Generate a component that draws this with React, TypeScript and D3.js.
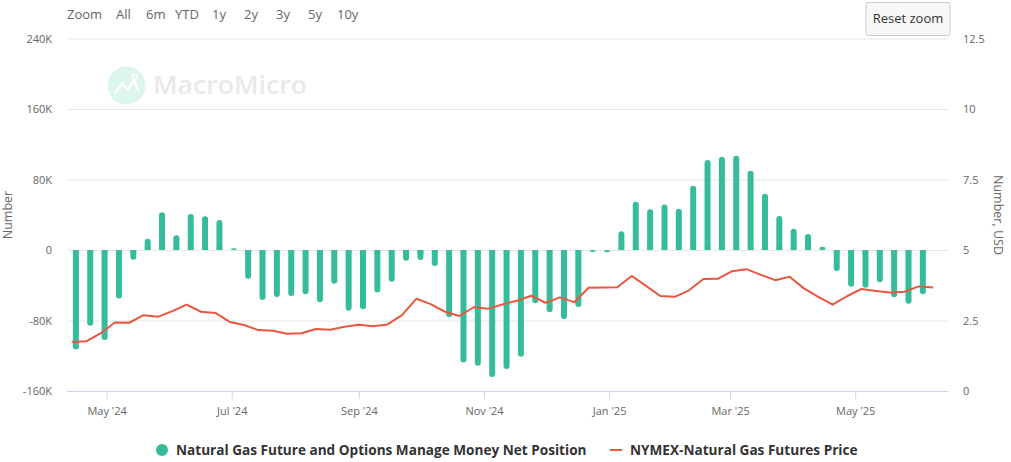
import React, { useRef, useEffect } from 'react';
import * as d3 from 'd3';

// weekly CFTC report dates (Tuesdays) and net position, contracts
const positionStart = '2024-04-16';
const positionEnd = '2025-06-03';
const netPosition = [
  -113000, -86000, -102000, -55000, -11000, 12800, 42700, 16600, 40800, 38200,
  34000, 2000, -32500, -56700, -53300, -52200, -50300, -59400, -38200, -68800,
  -67300, -48200, -35900, -12100, -11300, -18200, -76400, -127800, -131300, -144100,
  -135000, -121000, -60500, -70700, -78300, -64700, -2300, -2600, 21200, 54800,
  46100, 51600, 46900, 73000, 102100, 105900, 107000, 90000, 63900, 38600,
  24200, 18200, 3800, -23800, -41600, -42700, -36700, -53700, -60900, -50300,
];

// weekly NYMEX natural gas futures price, USD
const priceStart = '2024-04-14';
const priceEnd = '2025-06-08';
const gasPrice = [
  1.74, 1.76, 2.04, 2.43, 2.42, 2.69, 2.63, 2.83, 3.06, 2.81,
  2.77, 2.45, 2.34, 2.16, 2.14, 2.03, 2.05, 2.2, 2.17, 2.28,
  2.35, 2.3, 2.36, 2.69, 3.27, 3.08, 2.81, 2.66, 2.97, 2.92,
  3.07, 3.2, 3.38, 3.13, 3.32, 3.15, 3.66, 3.67, 3.68, 4.08,
  3.73, 3.37, 3.34, 3.57, 3.97, 3.98, 4.25, 4.32, 4.12, 3.93,
  4.05, 3.64, 3.34, 3.06, 3.36, 3.62, 3.55, 3.49, 3.52, 3.71,
  3.67,
];

const leftTicks = [-160000, -80000, 0, 80000, 160000, 240000];
const leftTickLabels = ['-160K', '-80K', '0', '80K', '160K', '240K'];
const rightTicks = [0, 2.5, 5, 7.5, 10, 12.5];
const xTickDates = ['2024-05-01', '2024-07-01', '2024-09-01', '2024-11-01', '2025-01-01', '2025-03-01', '2025-05-01'];
const xTickLabels = ["May '24", "Jul '24", "Sep '24", "Nov '24", "Jan '25", "Mar '25", "May '25"];
const rangeButtons = ['Zoom', 'All', '6m', 'YTD', '1y', '2y', '3y', '5y', '10y'];
const seriesNames = ['Natural Gas Future and Options Manage Money Net Position', 'NYMEX-Natural Gas Futures Price'];

const GREEN = '#37bc9b';
const RED = '#e9573f';
const FONT = '"Open Sans", "DejaVu Sans", sans-serif';

export default function App() {
  const svgRef = useRef<SVGSVGElement>(null);

  useEffect(() => {
    if (!svgRef.current) return;
    document.body.style.margin = '0';
    const svg = d3.select(svgRef.current);
    svg.selectAll('*').remove();

    const width = 1011;
    const height = 462;
    const left = 67, right = 948, top = 38.5, bottom = 391;

    const parse = (s: string) => new Date(s + 'T00:00:00Z');
    const posDates = d3.utcTuesday.range(parse(positionStart), d3.utcDay.offset(parse(positionEnd), 1));
    const priceDates = d3.utcSunday.range(parse(priceStart), d3.utcDay.offset(parse(priceEnd), 1));

    const x = d3.scaleUtc()
      .domain([new Date(Date.UTC(2024, 3, 11, 16)), new Date(Date.UTC(2025, 5, 15, 6))])
      .range([left, right]);
    const yL = d3.scaleLinear().domain([-160000, 240000]).range([bottom, top]);
    const yR = d3.scaleLinear().domain([0, 12.5]).range([bottom, top]);

    svg.attr('width', width).attr('height', height).style('font-family', FONT);

    // range selector
    const btnX = [67, 116, 146, 175, 212, 244, 276, 308, 337];
    svg.append('g').selectAll('text')
      .data(rangeButtons)
      .enter()
      .append('text')
      .attr('x', (_, i) => btnX[i])
      .attr('y', 19)
      .style('font-size', '13px')
      .style('fill', '#666')
      .text(d => d);

    // reset zoom button
    const btn = svg.append('g');
    btn.append('rect')
      .attr('x', 866).attr('y', 2.5).attr('width', 84).attr('height', 33)
      .attr('rx', 2).attr('fill', '#f7f7f7').attr('stroke', '#cccccc');
    btn.append('text')
      .attr('x', 908).attr('y', 22.5).attr('text-anchor', 'middle')
      .style('font-size', '13px').style('fill', '#333')
      .text('Reset zoom');

    // watermark
    const wm = svg.append('g');
    wm.append('circle').attr('cx', 126.5).attr('cy', 85.5).attr('r', 19).attr('fill', '#dcf5ef');
    wm.append('path')
      .attr('d', 'M115,93 L122,83 L128,90 L134,80 L138,90')
      .attr('fill', 'none').attr('stroke', '#ffffff').attr('stroke-width', 2.5)
      .attr('stroke-linejoin', 'round').attr('stroke-linecap', 'round');
    wm.append('circle').attr('cx', 135).attr('cy', 77).attr('r', 2.5)
      .attr('fill', 'none').attr('stroke', '#ffffff').attr('stroke-width', 1.5);
    wm.append('text')
      .attr('x', 153).attr('y', 94)
      .attr('textLength', 154).attr('lengthAdjust', 'spacingAndGlyphs')
      .style('font-size', '25px').style('font-weight', '600').style('fill', '#e9e9e9')
      .text('MacroMicro');

    // grid
    svg.append('g')
      .attr('transform', `translate(${left},0)`)
      .call(d3.axisLeft(yL).tickValues(leftTicks).tickSize(-(right - left)).tickFormat((_, i) => leftTickLabels[i]))
      .call(g => g.select('.domain').remove())
      .call(g => g.selectAll('.tick line').attr('stroke', '#e6e6e6'))
      .call(g => g.selectAll('text')
        .attr('x', -15)
        .style('font-family', FONT)
        .style('font-size', '11px')
        .style('fill', '#666'));

    svg.append('g')
      .attr('transform', `translate(${right},0)`)
      .call(d3.axisRight(yR).tickValues(rightTicks).tickSize(0).tickFormat(d => String(d)))
      .call(g => g.select('.domain').remove())
      .call(g => g.selectAll('text')
        .attr('x', 15)
        .style('font-family', FONT)
        .style('font-size', '11px')
        .style('fill', '#666'));

    // x axis
    const xTicks = xTickDates.map(parse);
    svg.append('g')
      .attr('transform', `translate(0,${bottom})`)
      .call(d3.axisBottom(x).tickValues(xTicks).tickSize(8).tickFormat((_, i) => xTickLabels[i]))
      .call(g => g.select('.domain').attr('stroke', '#ccd6eb').attr('d', `M${left},0.5H${right}`))
      .call(g => g.selectAll('.tick line').attr('stroke', '#ccd6eb'))
      .call(g => g.selectAll('text')
        .attr('y', 16)
        .style('font-family', FONT)
        .style('font-size', '11px')
        .style('fill', '#666'));

    // axis titles
    svg.append('text')
      .attr('transform', 'translate(12,215) rotate(-90)')
      .attr('text-anchor', 'middle')
      .style('font-size', '12.5px').style('fill', '#666')
      .text('Number');
    svg.append('text')
      .attr('transform', 'translate(994,215) rotate(90)')
      .attr('text-anchor', 'middle')
      .style('font-size', '12.5px').style('fill', '#666')
      .text('Number, USD');

    // bars
    const barW = 6;
    const y0 = yL(0);
    svg.append('g').selectAll('rect')
      .data(netPosition)
      .enter()
      .append('rect')
      .attr('x', (_, i) => x(posDates[i]) - barW / 2)
      .attr('y', d => Math.min(yL(d), y0))
      .attr('width', barW)
      .attr('height', d => Math.max(Math.abs(yL(d) - y0), 1))
      .attr('rx', 3)
      .attr('fill', GREEN);
    // square off bar base at zero line
    svg.append('g').selectAll('rect')
      .data(netPosition)
      .enter()
      .append('rect')
      .attr('x', (_, i) => x(posDates[i]) - barW / 2)
      .attr('y', d => d >= 0 ? Math.max(yL(d) + 3, y0 - 3) : y0)
      .attr('width', barW)
      .attr('height', d => Math.min(3, Math.max(Math.abs(yL(d) - y0) - 3, 0)))
      .attr('fill', GREEN);

    // price line
    const line = d3.line<number>()
      .x((_, i) => x(priceDates[i]))
      .y(d => yR(d));
    svg.append('path')
      .datum(gasPrice)
      .attr('d', line)
      .attr('fill', 'none')
      .attr('stroke', RED)
      .attr('stroke-width', 2)
      .attr('stroke-linejoin', 'round');

    // legend
    const lg = svg.append('g');
    lg.append('circle').attr('cx', 162).attr('cy', 450).attr('r', 6).attr('fill', GREEN);
    lg.append('text')
      .attr('x', 176).attr('y', 455)
      .style('font-size', '13.6px').style('font-weight', 'bold').style('fill', '#333')
      .text(seriesNames[0]);
    lg.append('line')
      .attr('x1', 610).attr('x2', 622).attr('y1', 450).attr('y2', 450)
      .attr('stroke', RED).attr('stroke-width', 2);
    lg.append('text')
      .attr('x', 630).attr('y', 455)
      .style('font-size', '13.6px').style('font-weight', 'bold').style('fill', '#333')
      .text(seriesNames[1]);
  }, []);

  return <svg ref={svgRef} style={{ display: 'block' }} />;
}
